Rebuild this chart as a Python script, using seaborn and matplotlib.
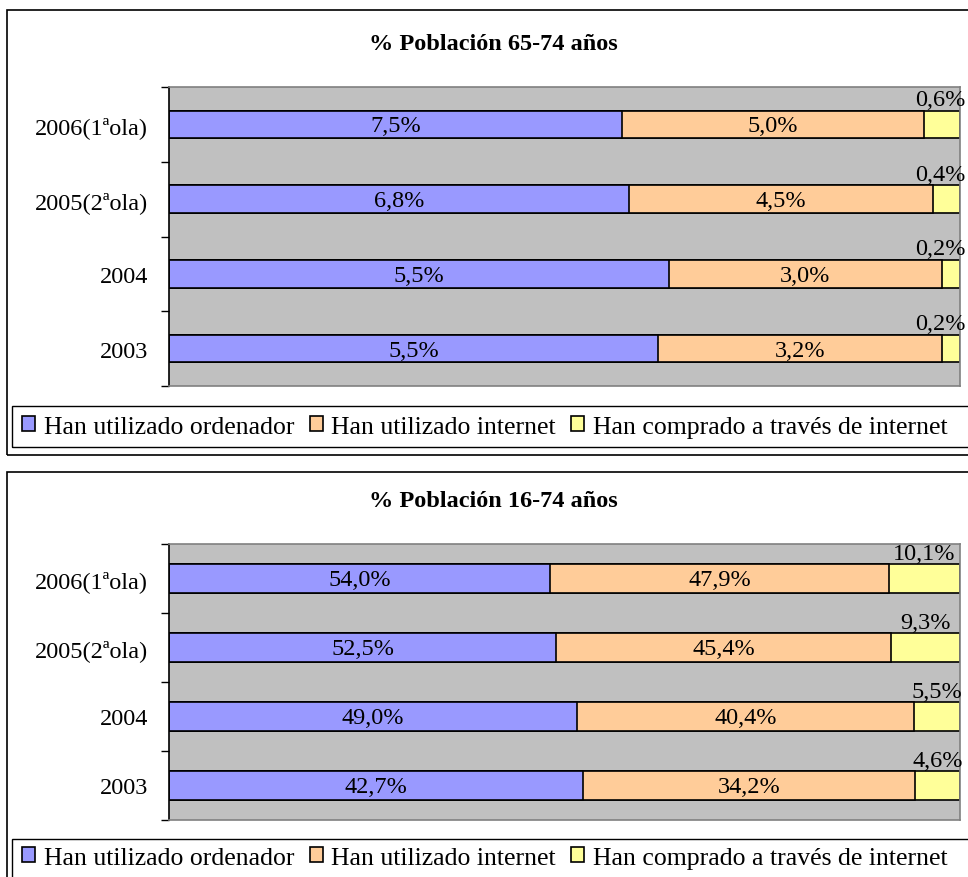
import numpy as np
import pandas as pd
import matplotlib
matplotlib.use("Agg")
import matplotlib.pyplot as plt
from matplotlib.patches import Rectangle, Patch
import seaborn as sns

# ---------------- data ----------------
categories = ["2006(1ªola)", "2005(2ªola)", "2004", "2003"]
series_names = ["Han utilizado ordenador", "Han utilizado internet",
                "Han comprado a través de internet"]

title_top = "% Población 65-74 años"
ordenador_65 = [7.5, 6.8, 5.5, 5.5]
internet_65 = [5.0, 4.5, 3.0, 3.2]
compra_65 = [0.6, 0.4, 0.2, 0.2]

title_bottom = "% Población 16-74 años"
ordenador_16 = [54.0, 52.5, 49.0, 42.7]
internet_16 = [47.9, 45.4, 40.4, 34.2]
compra_16 = [10.1, 9.3, 5.5, 4.6]

colors = ["#9999FF", "#FFCC99", "#FFFF99"]
bg = "#C0C0C0"

sns.set_theme(style="white")
plt.rcParams["font.family"] = ["Liberation Serif", "DejaVu Serif"]
plt.rcParams["text.color"] = "black"
plt.rcParams["axes.labelcolor"] = "black"
plt.rcParams["xtick.color"] = "black"
plt.rcParams["ytick.color"] = "black"

W, H = 968, 878
fig = plt.figure(figsize=(W / 100, H / 100), dpi=100)

LABEL_FS = 17.5
TICK_FS = 17.5
LEG_FS = 18.5
TITLE_FS = 17.5


def fx(px):
    return px / W


def fy(py):
    return 1 - py / H


def fmt(v):
    return f"{v:.1f}".replace(".", ",") + "%"


outside_labels = []


def draw_panel(ax, s1, s2, s3, bar_w):
    df = pd.DataFrame({"cat": categories, "a": s1, "b": s2, "c": s3})
    tot = df["a"] + df["b"] + df["c"]
    df["cum1"] = df["a"] / tot
    df["cum2"] = (df["a"] + df["b"]) / tot
    df["cum3"] = tot / tot
    ax.set_facecolor(bg)
    for col, c in zip(["cum3", "cum2", "cum1"], colors[::-1]):
        sns.barplot(data=df, x=col, y="cat", order=categories, color=c,
                    width=bar_w, edgecolor="black", linewidth=1.2,
                    errorbar=None, saturation=1, ax=ax)
    ax.set_xlim(0, 1)
    ax.set_ylim(len(categories) - 0.5, -0.5)
    ax.set_xlabel("")
    ax.set_ylabel("")
    ax.set_xticks([])
    for i, row in df.iterrows():
        ax.text(row["cum1"] / 2, i + 0.02, fmt(row["a"]), ha="center",
                va="center", fontsize=LABEL_FS, color="black")
        ax.text((row["cum1"] + row["cum2"]) / 2, i + 0.02, fmt(row["b"]),
                ha="center", va="center", fontsize=LABEL_FS, color="black")
        t = ax.text((row["cum2"] + 1) / 2, i - bar_w / 2 - 0.01, fmt(row["c"]),
                    ha="center", va="bottom", fontsize=LABEL_FS,
                    color="black", clip_on=False)
        outside_labels.append((ax, t))
    ax.set_yticks(np.arange(len(categories)))
    ax.set_yticklabels(categories, fontsize=TICK_FS, color="black")
    ax.set_yticks(np.arange(len(categories) + 1) - 0.5, minor=True)
    ax.tick_params(axis="y", which="major", length=0, pad=15)
    ax.tick_params(axis="y", which="minor", length=6, width=1,
                   color="black", direction="out", left=True)
    for s in ["top", "right", "bottom"]:
        ax.spines[s].set_color("#808080")
        ax.spines[s].set_linewidth(1.2)
    ax.spines["left"].set_color("black")
    ax.spines["left"].set_linewidth(1.2)


ax1 = fig.add_axes([fx(169), fy(387), fx(960 - 169), (387 - 88) / H])
draw_panel(ax1, ordenador_65, internet_65, compra_65, 0.37)
ax2 = fig.add_axes([fx(169), fy(821), fx(960 - 169), (821 - 545) / H])
draw_panel(ax2, ordenador_16, internet_16, compra_16, 0.41)

# panel frames
fig.patches.append(Rectangle((fx(7), fy(456)), fx(990 - 7), (456 - 11) / H,
                             transform=fig.transFigure, fill=False,
                             edgecolor="black", linewidth=1.2))
fig.patches.append(Rectangle((fx(7), fy(900)), fx(990 - 7), (900 - 473) / H,
                             transform=fig.transFigure, fill=False,
                             edgecolor="black", linewidth=1.2))
# legend frames
fig.patches.append(Rectangle((fx(12), fy(448)), fx(990 - 12), (448 - 407) / H,
                             transform=fig.transFigure, fill=False,
                             edgecolor="black", linewidth=1.0))
fig.patches.append(Rectangle((fx(12), fy(900)), fx(990 - 12), (900 - 840) / H,
                             transform=fig.transFigure, fill=False,
                             edgecolor="black", linewidth=1.0))

fig.text(fx(493), fy(44), title_top, ha="center", va="center",
         fontsize=TITLE_FS, fontweight="bold", color="black")
fig.text(fx(493), fy(502), title_bottom, ha="center", va="center",
         fontsize=TITLE_FS, fontweight="bold", color="black")

handles = [Patch(facecolor=c, edgecolor="black", linewidth=1.2) for c in colors]
for yc in (428, 859):
    leg = fig.legend(handles, series_names, loc="center left",
                     bbox_to_anchor=(fx(22), fy(yc)), ncol=3, frameon=False,
                     fontsize=LEG_FS, handlelength=0.52, handleheight=0.52,
                     handletextpad=0.32, columnspacing=0.6, borderaxespad=0,
                     borderpad=0)
    for txt in leg.get_texts():
        txt.set_color("black")

# keep the outside labels inside the figure
fig.canvas.draw()
r = fig.canvas.get_renderer()
for ax, t in outside_labels:
    bb = t.get_window_extent(r)
    limit = W - 2
    if bb.x1 > limit:
        shift = bb.x1 - limit
        x_disp, y_disp = ax.transData.transform(t.get_position())
        nx, ny = ax.transData.inverted().transform((x_disp - shift, y_disp))
        t.set_position((nx, t.get_position()[1]))

fig.savefig("out.png", dpi=100)
